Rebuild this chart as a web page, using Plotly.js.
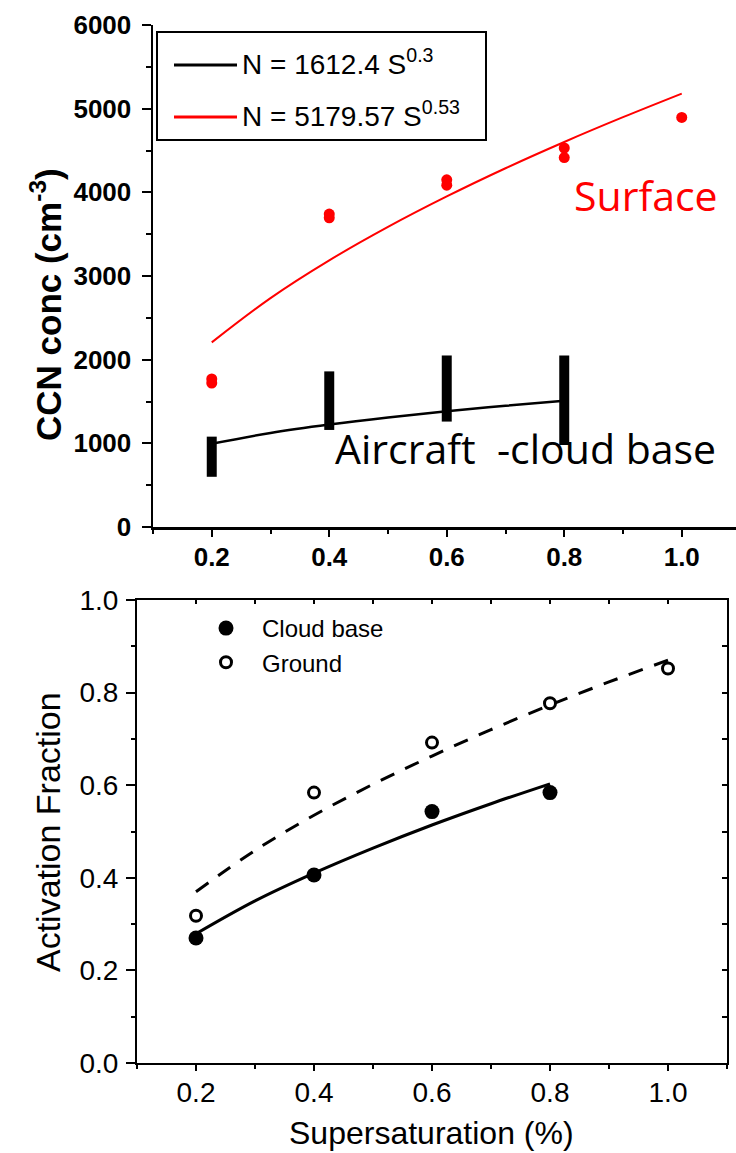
<!DOCTYPE html>
<html>
<head>
<meta charset="utf-8">
<script src="https://cdn.plot.ly/plotly-3.0.1.min.js"></script>
<style>html,body{margin:0;padding:0;background:#fff;}#chart{width:736px;height:1153px;}</style>
</head>
<body>
<div id="chart"></div>
<script>
// ---------- Top panel data (CCN concentration) ----------
var ssTop = [0.2, 0.4, 0.6, 0.8];
var aircraftLow = [600, 1160, 1260, 980];
var aircraftHigh = [1080, 1860, 2050, 2050];

var surfaceX = [0.2, 0.2, 0.4, 0.4, 0.6, 0.6, 0.8, 0.8, 1.0];
var surfaceY = [1720, 1770, 3695, 3740, 4085, 4150, 4415, 4530, 4895];

var fitAircraftX = [0.2, 0.3, 0.4, 0.5, 0.6, 0.7, 0.8];
var fitAircraftY = [995, 1124, 1225, 1310, 1384, 1449, 1508];

var fitSurfaceX = [0.2, 0.3, 0.4, 0.5, 0.6, 0.7, 0.8, 0.9, 1.0];
var fitSurfaceY = [2207, 2736, 3187, 3587, 3951, 4288, 4602, 4898, 5180];

var legendTop = ["N = 1612.4 S<sup>0.3</sup>", "N = 5179.57 S<sup>0.53</sup>"];

// ---------- Bottom panel data (activation fraction) ----------
var ssBase = [0.2, 0.4, 0.6, 0.8];
var cloudBaseAF = [0.270, 0.406, 0.543, 0.584];
var ssGround = [0.2, 0.4, 0.6, 0.8, 1.0];
var groundAF = [0.318, 0.584, 0.692, 0.777, 0.852];

var fitBaseX = [0.2, 0.3, 0.4, 0.5, 0.6, 0.7, 0.8];
var fitBaseY = [0.279, 0.350, 0.410, 0.464, 0.514, 0.560, 0.603];
var fitGroundX = [0.2, 0.3, 0.4, 0.5, 0.6, 0.7, 0.8, 0.9, 1.0];
var fitGroundY = [0.370, 0.459, 0.535, 0.602, 0.663, 0.720, 0.773, 0.823, 0.870];

var W = 736, H = 1153;
function px(x){ return x / W; }
function py(y){ return 1 - y / H; }

var FONT = "Liberation Sans, Arial, sans-serif";
var FONTB = "Liberation Sans, Arial, sans-serif";

var traces = [
  {type: 'bar', x: ssTop, base: aircraftLow,
   y: aircraftHigh.map(function(v, i){ return v - aircraftLow[i]; }),
   width: 0.017, marker: {color: '#000', line: {width: 0}},
   xaxis: 'x', yaxis: 'y', showlegend: false, hoverinfo: 'skip'},
  {type: 'scatter', mode: 'lines', x: fitAircraftX, y: fitAircraftY,
   line: {color: '#000', width: 2.5, shape: 'spline'}, xaxis: 'x', yaxis: 'y', showlegend: false},
  {type: 'scatter', mode: 'lines', x: fitSurfaceX, y: fitSurfaceY,
   line: {color: '#ff0000', width: 2, shape: 'spline'}, xaxis: 'x', yaxis: 'y', showlegend: false},
  {type: 'scatter', mode: 'markers', x: surfaceX, y: surfaceY,
   marker: {color: '#ff0000', size: 11}, xaxis: 'x', yaxis: 'y', showlegend: false},

  {type: 'scatter', mode: 'lines', x: fitBaseX, y: fitBaseY,
   line: {color: '#000', width: 3, shape: 'spline'}, xaxis: 'x2', yaxis: 'y2', showlegend: false},
  {type: 'scatter', mode: 'lines', x: fitGroundX, y: fitGroundY,
   line: {color: '#000', width: 3, shape: 'spline', dash: '15px,12px'}, xaxis: 'x2', yaxis: 'y2', showlegend: false},
  {type: 'scatter', mode: 'markers', name: 'Cloud base', x: ssBase, y: cloudBaseAF,
   marker: {color: '#000', size: 15, symbol: 'circle'}, xaxis: 'x2', yaxis: 'y2', legend: 'legend2'},
  {type: 'scatter', mode: 'markers', name: 'Ground', x: ssGround, y: groundAF,
   marker: {color: '#fff', size: 11, symbol: 'circle', line: {color: '#000', width: 3}},
   xaxis: 'x2', yaxis: 'y2', legend: 'legend2'},
  // carrier for the inward mirror ticks of the bottom frame
  {type: 'scatter', mode: 'markers', x: [], y: [], xaxis: 'x3', yaxis: 'y3', showlegend: false, hoverinfo: 'skip'}
];

var layout = {
  width: W, height: H,
  margin: {l: 0, r: 0, t: 0, b: 0},
  paper_bgcolor: '#fff', plot_bgcolor: 'rgba(0,0,0,0)',
  showlegend: true,
  font: {family: FONT, color: '#000'},
  xaxis: {
    domain: [px(153), 1], range: [0.1, 0.1 + (W - 153) / 587.5], anchor: 'y',
    showgrid: false, zeroline: false, showline: true, linecolor: '#000', linewidth: 2.5,
    ticks: 'outside', tick0: 0.2, dtick: 0.2, ticklen: 7, tickwidth: 2, tickcolor: '#000',
    minor: {ticks: 'outside', tick0: 0.1, dtick: 0.1, ticklen: 4, tickwidth: 2, tickcolor: '#000'},
    tickformat: '.1f', tickfont: {family: FONTB, size: 26, weight: 'bold'}, ticklabelstandoff: -2
  },
  yaxis: {
    domain: [py(527), py(25)], range: [0, 6000], anchor: 'x',
    showgrid: false, zeroline: false, showline: true, linecolor: '#000', linewidth: 2.5,
    ticks: 'outside', dtick: 1000, ticklen: 9, tickwidth: 2, tickcolor: '#000',
    minor: {ticks: 'outside', dtick: 500, ticklen: 5, tickwidth: 2, tickcolor: '#000'},
    tickfont: {family: FONTB, size: 26, weight: 'bold'}, ticklabelstandoff: 5
  },
  xaxis2: {
    domain: [px(137), px(727)], range: [0.1, 1.1], anchor: 'y2',
    showgrid: false, zeroline: false, showline: true, mirror: true, linecolor: '#000', linewidth: 2,
    ticks: 'outside', tick0: 0.2, dtick: 0.2, ticklen: 6, tickwidth: 2, tickcolor: '#000',
    minor: {ticks: 'outside', tick0: 0.1, dtick: 0.1, ticklen: 4, tickwidth: 2, tickcolor: '#000'},
    tickformat: '.1f', tickfont: {family: FONT, size: 28}, ticklabelstandoff: -3
  },
  yaxis2: {
    domain: [py(1063), py(600)], range: [0, 1], anchor: 'x2',
    showgrid: false, zeroline: false, showline: true, mirror: true, linecolor: '#000', linewidth: 2,
    ticks: 'outside', dtick: 0.2, ticklen: 9, tickwidth: 2, tickcolor: '#000',
    minor: {ticks: 'outside', dtick: 0.1, ticklen: 4, tickwidth: 2, tickcolor: '#000'},
    tickformat: '.1f', tickfont: {family: FONT, size: 28}, ticklabelstandoff: 2
  },
  xaxis3: {
    overlaying: 'x2', side: 'top', anchor: 'y3', range: [0.1, 1.1],
    showgrid: false, zeroline: false, showline: false, showticklabels: false,
    ticks: 'inside', tick0: 0.1, dtick: 0.1, ticklen: 4, tickwidth: 2, tickcolor: '#000'
  },
  yaxis3: {
    overlaying: 'y2', side: 'right', anchor: 'x3', range: [0, 1],
    showgrid: false, zeroline: false, showline: false, showticklabels: false,
    ticks: 'inside', dtick: 0.1, ticklen: 5, tickwidth: 2, tickcolor: '#000'
  },
  legend2: {
    x: px(190), y: py(606), xanchor: 'left', yanchor: 'top',
    bgcolor: 'rgba(0,0,0,0)', borderwidth: 0, itemwidth: 62,
    font: {family: FONT, size: 24}, tracegroupgap: 0
  },
  shapes: [
    {type: 'rect', xref: 'paper', yref: 'paper', x0: px(157), x1: px(486), y0: py(140), y1: py(32),
     line: {color: '#000', width: 2}, fillcolor: 'rgba(0,0,0,0)'},
    {type: 'line', xref: 'paper', yref: 'paper', x0: px(174), x1: px(237), y0: py(65), y1: py(65),
     line: {color: '#000', width: 3}},
    {type: 'line', xref: 'paper', yref: 'paper', x0: px(174), x1: px(237), y0: py(117), y1: py(117),
     line: {color: '#ff0000', width: 3}}
  ],
  annotations: [
    {xref: 'paper', yref: 'paper', x: px(240), y: py(62), xanchor: 'left', yanchor: 'middle',
     text: legendTop[0], showarrow: false, font: {family: FONT, size: 28, color: '#000'}},
    {xref: 'paper', yref: 'paper', x: px(240), y: py(114), xanchor: 'left', yanchor: 'middle',
     text: legendTop[1], showarrow: false, font: {family: FONT, size: 28, color: '#000'}},
    {xref: 'paper', yref: 'paper', x: px(572), y: py(195), xanchor: 'left', yanchor: 'middle',
     text: 'Surface', showarrow: false, font: {family: 'Open Sans, sans-serif', size: 41, color: '#ff0000'}},
    {xref: 'paper', yref: 'paper', x: px(333), y: py(448), xanchor: 'left', yanchor: 'middle',
     text: 'Aircraft\u00a0 -cloud base', showarrow: false, font: {family: 'Open Sans, sans-serif', size: 41, color: '#000'}},
    {xref: 'paper', yref: 'paper', x: px(46), y: py(305), xanchor: 'center', yanchor: 'middle', textangle: -90,
     text: 'CCN conc (cm<sup>-3</sup>)', showarrow: false, font: {family: FONTB, size: 35, weight: 'bold', color: '#000'}},
    {xref: 'paper', yref: 'paper', x: px(48), y: py(832), xanchor: 'center', yanchor: 'middle', textangle: -90,
     text: 'Activation Fraction', showarrow: false, font: {family: FONT, size: 34, color: '#000'}},
    {xref: 'paper', yref: 'paper', x: px(431), y: py(1133), xanchor: 'center', yanchor: 'middle',
     text: 'Supersaturation (%)', showarrow: false, font: {family: FONT, size: 32, color: '#000'}}
  ]
};

Plotly.newPlot('chart', traces, layout, {displayModeBar: false, staticPlot: true});
</script>
</body>
</html>
